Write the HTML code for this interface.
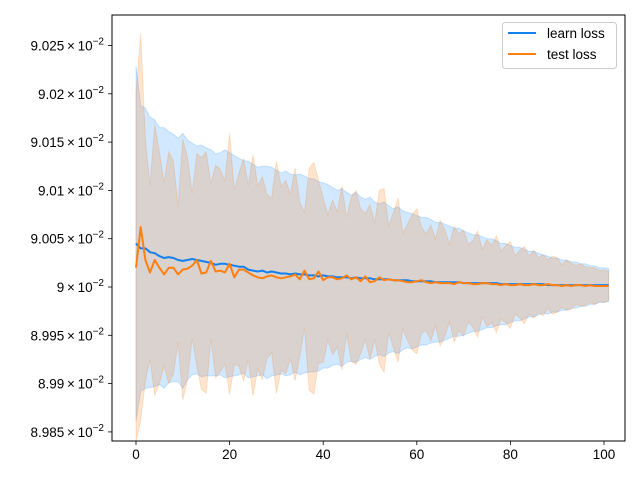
<!DOCTYPE html>
<html><head><meta charset="utf-8">
<style>
html,body{margin:0;padding:0;background:#fff;}
svg{display:block;font-family:"Liberation Sans","DejaVu Sans",sans-serif;}
</style></head>
<body>
<svg id="chart" width="640" height="480" viewBox="0 0 640 480" xmlns="http://www.w3.org/2000/svg">
<rect x="0" y="0" width="640" height="480" fill="#fff"/>
<g id="plot"></g>
</svg>
<script>
// values in units of 1e-6 above 0.09
const learnMean = [45,40,40,36,35,32,30,31,30,28,
27,28,29,28,27,26,25,23,24,24,
23,22,21,21,18,17,16,17,15,16,
15,14,14,13,14,13,13,12,12,11,
12,11,11,10,10,10,9,10,9,9,
9,8,8,8,8,7,7,7,7,6,
6,6,6,6,5,5,5,5,5,5,
4,4,4,4,4,4,4,4,3,3,
3,3,3,3,3,3,3,3,2,2,
2,2,2,2,2,2,2,2,2,2,
2,2];
const learnBand = [184,148,145,140,138,133,135,130,128,126,
132,124,120,118,120,118,117,115,115,118,
116,114,112,110,112,110,108,108,110,108,
106,104,106,104,102,104,102,100,100,98,
96,95,92,90,92,88,86,88,84,82,
84,80,78,80,76,74,76,72,70,70,
68,66,66,64,62,62,60,58,56,56,
54,52,50,50,48,46,46,44,42,42,
40,38,38,36,34,34,32,30,30,28,
28,26,26,24,24,22,22,20,20,18,
18,17];
const testMean = [20,62,28,15,28,20,13,20,20,13,
18,19,22,28,14,15,27,16,17,15,
24,10,18,18,15,12,10,9,11,12,
10,9,10,11,13,8,17,8,9,16,
7,10,10,8,9,12,8,10,6,11,
5,6,10,7,8,7,7,6,5,5,
6,7,5,4,5,4,4,4,3,5,
4,4,3,3,4,4,3,3,2,3,
2,2,3,2,2,3,2,2,3,2,
2,1,2,1,2,2,1,2,1,1,
1,1];
const testBand = [180,200,125,90,140,120,95,120,110,70,
135,115,75,110,120,125,80,110,105,95,
135,90,100,115,90,125,95,105,85,80,
120,95,100,85,110,80,60,115,120,95,
85,65,80,70,95,60,85,90,75,65,
80,60,90,95,55,70,85,50,60,70,
75,55,50,60,45,65,55,40,60,50,
55,40,45,55,35,45,40,50,35,40,
45,30,35,40,30,35,28,32,25,30,
28,22,26,24,20,22,20,18,19,16,
17,15];
const xTicks = [0,20,40,60,80,100];
const yTicks = [-150,-100,-50,0,50,100,150,200,250];
const yTickLabels = ["8.985","8.99","8.995","9","9.005","9.01","9.015","9.02","9.025"];

const L=112,R=625,T=15,B=441;
const X = v => 136 + v*4.68;
const Y = v => 287 - v*0.966;
const NS="http://www.w3.org/2000/svg";
const g=document.getElementById('plot');
function mk(tag,attrs){const e=document.createElementNS(NS,tag);for(const k in attrs)e.setAttribute(k,attrs[k]);g.appendChild(e);return e;}

function band(mean,half,color,name){
  let up=mean.map((m,i)=>X(i).toFixed(1)+','+Y(m+half[i]).toFixed(1));
  let lo=mean.map((m,i)=>X(i).toFixed(1)+','+Y(m-half[i]).toFixed(1)).reverse();
  const p=mk('polygon',{points:up.concat(lo).join(' '),fill:color,'fill-opacity':0.2,stroke:color,'stroke-opacity':0.2,'stroke-width':1});
  
  
}
function line(mean,color,name){
  const p=mk('polyline',{points:mean.map((m,i)=>X(i).toFixed(1)+','+Y(m).toFixed(1)).join(' '),fill:'none',stroke:color,'stroke-width':2,'stroke-linejoin':'round'});
  
  
}
const BLUE='#1380f0', ORANGE='#ff7f0e';
band(learnMean,learnBand,'#1a8cff','learn-loss-band');
band(testMean,testBand,ORANGE,'test-loss-band');
line(learnMean,BLUE,'learn-loss-line');
line(testMean,ORANGE,'test-loss-line');

const fr=mk('rect',{x:L,y:T,width:R-L,height:B-T,fill:'none',stroke:'#000','stroke-width':1});



xTicks.forEach(v=>{
  mk('line',{x1:X(v),x2:X(v),y1:B,y2:B+4,stroke:'#000','stroke-width':0.8});
  const t=mk('text',{x:X(v),y:B+18,'text-anchor':'middle','font-size':13.5,fill:'#000'});
  t.textContent=v;
  
  
});
yTicks.forEach((v,i)=>{
  mk('line',{x1:L-4,x2:L,y1:Y(v),y2:Y(v),stroke:'#000','stroke-width':0.8});
  const t=mk('text',{x:104,y:Y(v)+5,'text-anchor':'end','font-size':13.5,fill:'#000'});
  const a=document.createElementNS(NS,'tspan');a.textContent=yTickLabels[i]+'\u2009\u00d7\u200910';t.appendChild(a);
  const b=document.createElementNS(NS,'tspan');b.setAttribute('dy','-6');b.setAttribute('font-size','10');b.textContent='\u22122';t.appendChild(b);
  
  
});

const lg=mk('rect',{x:502.5,y:22.5,width:114,height:46,rx:3,fill:'#fff','fill-opacity':0.8,stroke:'#ccc','stroke-width':1});


[['learn loss',BLUE,33],['test loss',ORANGE,54]].forEach(([lab,c,y])=>{
  mk('line',{x1:508,x2:536,y1:y,y2:y,stroke:c,'stroke-width':2});
  const t=mk('text',{x:547,y:y+5,'font-size':13.5,fill:'#000'});
  t.textContent=lab;
  
  
});
</script>
</body></html>
